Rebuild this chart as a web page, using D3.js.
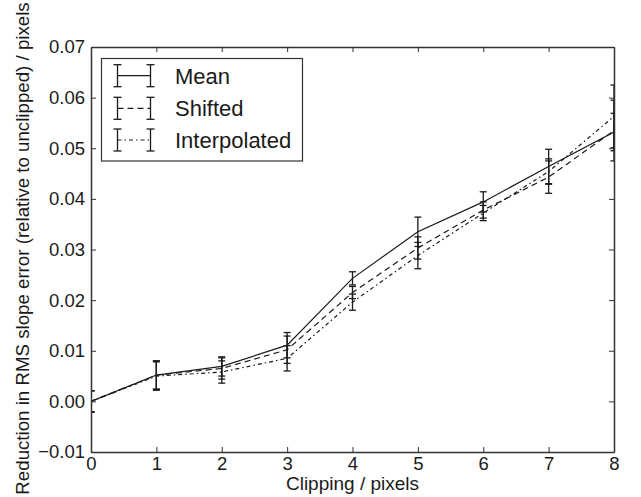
<!DOCTYPE html>
<html>
<head>
<meta charset="utf-8">
<script src="https://cdn.jsdelivr.net/npm/d3@7"></script>
<style>
  body { margin: 0; background: #fff; }
  text { font-family: "Liberation Sans", Arial, Helvetica, sans-serif; fill: #1a1a1a; }
</style>
</head>
<body>
<div id="chart"></div>
<script>
// Data
const clipping = [0, 1, 2, 3, 4, 5, 6, 7, 8];
const meanVals = [0, 0.0052, 0.0069, 0.0111, 0.0243, 0.0335, 0.0394, 0.0464, 0.0532];
const meanErr = [0.0021, 0.0028, 0.0019, 0.0025, 0.0013, 0.0029, 0.0020, 0.0034, 0.0037];
const shiftedVals = [0, 0.0052, 0.0065, 0.0102, 0.0215, 0.0303, 0.0378, 0.0443, 0.0535];
const shiftedErr = [0.0021, 0.0028, 0.0021, 0.0027, 0.0012, 0.0022, 0.0016, 0.0032, 0.0060];
const interpVals = [0, 0.0050, 0.0058, 0.0085, 0.0196, 0.0288, 0.0372, 0.0454, 0.0563];
const interpErr = [0.0021, 0.0028, 0.0022, 0.0025, 0.0016, 0.0026, 0.0015, 0.0025, 0.0062];
const seriesNames = ['Mean', 'Shifted', 'Interpolated'];
const xTicks = [0, 1, 2, 3, 4, 5, 6, 7, 8];
const yTicks = [-0.01, 0, 0.01, 0.02, 0.03, 0.04, 0.05, 0.06, 0.07];

const width = 641, height = 497;
const margin = { top: 47, right: 27, bottom: 45, left: 91 };
const innerW = width - margin.left - margin.right;
const innerH = height - margin.top - margin.bottom;

const dashes = ['none', '6,4', '4,3,1.5,3'];
const series = [
  { name: seriesNames[0], vals: meanVals, err: meanErr, dash: dashes[0] },
  { name: seriesNames[1], vals: shiftedVals, err: shiftedErr, dash: dashes[1] },
  { name: seriesNames[2], vals: interpVals, err: interpErr, dash: dashes[2] }
];

const svg = d3.select('#chart').append('svg')
  .attr('width', width)
  .attr('height', height);

const g = svg.append('g')
  .attr('transform', `translate(${margin.left},${margin.top})`);

const x = d3.scaleLinear().domain([0, 8]).range([0, innerW]);
const y = d3.scaleLinear().domain([-0.01, 0.07]).range([innerH, 0]);

// clip data to the axes box
svg.append('defs').append('clipPath').attr('id', 'plotClip')
  .append('rect').attr('width', innerW).attr('height', innerH);

const plot = g.append('g').attr('clip-path', 'url(#plotClip)');

const line = d3.line()
  .x((d, i) => x(clipping[i]))
  .y(d => y(d));

series.forEach(s => {
  plot.append('path')
    .datum(s.vals)
    .attr('d', line)
    .attr('fill', 'none')
    .attr('stroke', '#1a1a1a')
    .attr('stroke-width', 1.2)
    .attr('stroke-dasharray', s.dash);

  // error bars
  const capW = 3.5;
  const eb = plot.append('g').attr('stroke', '#1a1a1a').attr('stroke-width', 1.3);
  s.vals.forEach((v, i) => {
    const cx = x(clipping[i]);
    const top = y(v + s.err[i]);
    const bot = y(v - s.err[i]);
    eb.append('line').attr('x1', cx).attr('x2', cx).attr('y1', top).attr('y2', bot);
    eb.append('line').attr('x1', cx - capW).attr('x2', cx + capW).attr('y1', top).attr('y2', top);
    eb.append('line').attr('x1', cx - capW).attr('x2', cx + capW).attr('y1', bot).attr('y2', bot);
  });
});

// axes, ticks pointing inward on all four sides
const fmt = d3.format('.2f');
const axisColor = '#333';

const gx = g.append('g').attr('transform', `translate(0,${innerH})`)
  .call(d3.axisBottom(x).tickValues(xTicks).tickFormat(d3.format('d'))
    .tickSizeInner(-5).tickSizeOuter(0).tickPadding(5));
const gy = g.append('g')
  .call(d3.axisLeft(y).tickValues(yTicks).tickFormat(fmt)
    .tickSizeInner(-5).tickSizeOuter(0).tickPadding(6));
const gt = g.append('g')
  .call(d3.axisTop(x).tickValues(xTicks).tickFormat('')
    .tickSizeInner(-5).tickSizeOuter(0));
const gr = g.append('g').attr('transform', `translate(${innerW},0)`)
  .call(d3.axisRight(y).tickValues(yTicks).tickFormat('')
    .tickSizeInner(-5).tickSizeOuter(0));

[gx, gy, gt, gr].forEach(a => {
  a.selectAll('path.domain').attr('stroke', axisColor).attr('stroke-width', 1.5);
  a.selectAll('.tick line').attr('stroke', axisColor).attr('stroke-width', 1);
  a.selectAll('.tick text')
    .style('font-size', '18.5px')
    .style('font-family', '"Liberation Sans", Arial, sans-serif')
    .attr('fill', '#1a1a1a');
});

// axis titles
svg.append('text')
  .attr('x', margin.left + innerW / 2)
  .attr('y', 490)
  .attr('text-anchor', 'middle')
  .style('font-size', '19px')
  .text('Clipping / pixels');

svg.append('text')
  .attr('transform', 'translate(29,248.5) rotate(-90)')
  .attr('text-anchor', 'middle')
  .style('font-size', '18.7px')
  .text('Reduction in RMS slope error (relative to unclipped) / pixels');

// legend
const legend = svg.append('g').attr('transform', 'translate(101.5,58.5)');
legend.append('rect')
  .attr('width', 201)
  .attr('height', 102.5)
  .attr('fill', '#fff')
  .attr('stroke', axisColor)
  .attr('stroke-width', 1.2);

const rowY = [17.2, 49.8, 81.5];
series.forEach((s, i) => {
  const row = legend.append('g').attr('transform', `translate(0,${rowY[i]})`);
  const x0 = 16, x1 = 49, h = 11, cw = 4;
  row.append('line').attr('x1', x0).attr('x2', x1).attr('y1', 0).attr('y2', 0)
    .attr('stroke', '#1a1a1a').attr('stroke-width', 1.2)
    .attr('stroke-dasharray', s.dash);
  [x0, x1].forEach(bx => {
    row.append('line').attr('x1', bx).attr('x2', bx).attr('y1', -h).attr('y2', h)
      .attr('stroke', '#1a1a1a').attr('stroke-width', 1.3);
    row.append('line').attr('x1', bx - cw).attr('x2', bx + cw).attr('y1', -h).attr('y2', -h)
      .attr('stroke', '#1a1a1a').attr('stroke-width', 1.3);
    row.append('line').attr('x1', bx - cw).attr('x2', bx + cw).attr('y1', h).attr('y2', h)
      .attr('stroke', '#1a1a1a').attr('stroke-width', 1.3);
  });
  row.append('text')
    .attr('x', 73.5)
    .attr('dy', '0.36em')
    .style('font-size', '22px')
    .text(s.name);
});
</script>
</body>
</html>
